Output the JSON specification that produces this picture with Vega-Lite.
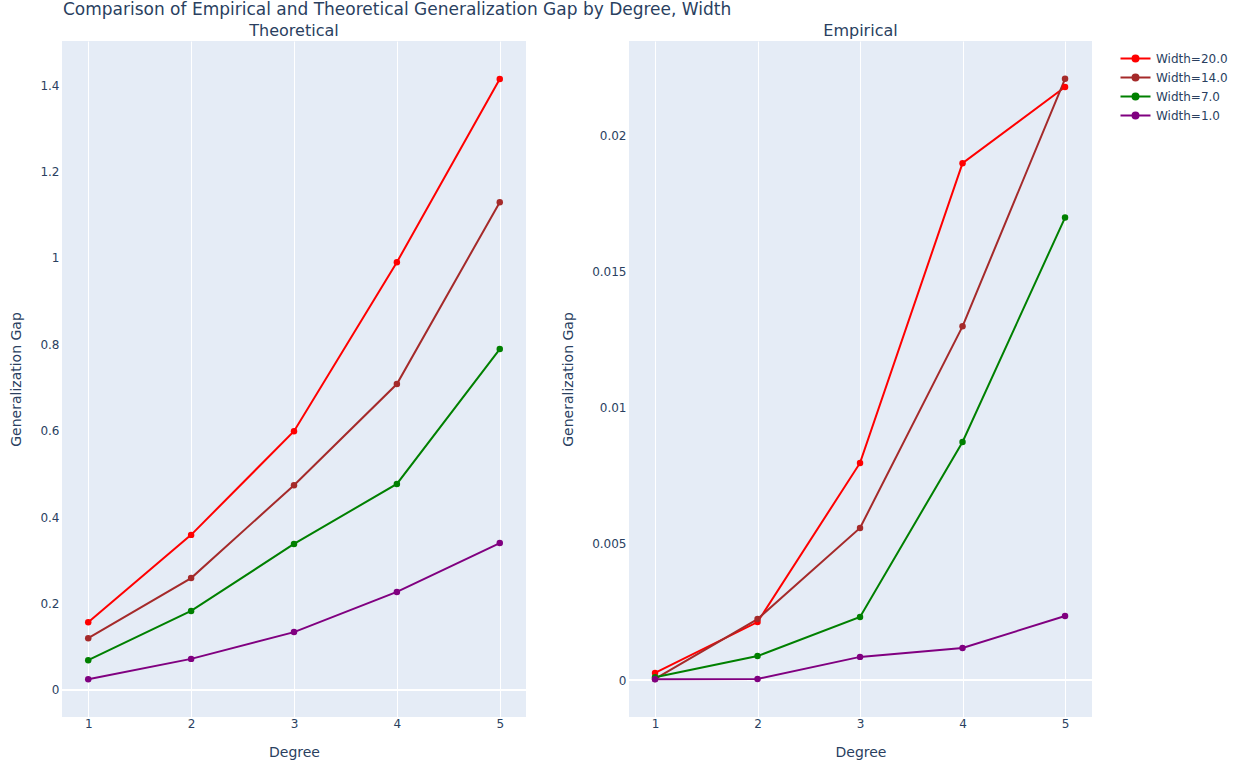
{
  "$schema": "https://vega.github.io/schema/vega-lite/v6.json",
  "background": "white",
  "padding": {"left": 9, "top": 1, "right": 5, "bottom": 5},
  "title": {"text": "Comparison of Empirical and Theoretical Generalization Gap by Degree, Width", "anchor": "start", "dx": 53, "fontSize": 17, "font": "DejaVu Sans", "fontWeight": "normal", "color": "#2a3f5f", "offset": 4},
  "datasets": {
    "theo": [
      {"Degree": 1, "Gap": 0.157, "Width": "Width=20.0"},
      {"Degree": 2, "Gap": 0.359, "Width": "Width=20.0"},
      {"Degree": 3, "Gap": 0.599, "Width": "Width=20.0"},
      {"Degree": 4, "Gap": 0.990, "Width": "Width=20.0"},
      {"Degree": 5, "Gap": 1.414, "Width": "Width=20.0"},
      {"Degree": 1, "Gap": 0.120, "Width": "Width=14.0"},
      {"Degree": 2, "Gap": 0.259, "Width": "Width=14.0"},
      {"Degree": 3, "Gap": 0.474, "Width": "Width=14.0"},
      {"Degree": 4, "Gap": 0.708, "Width": "Width=14.0"},
      {"Degree": 5, "Gap": 1.129, "Width": "Width=14.0"},
      {"Degree": 1, "Gap": 0.069, "Width": "Width=7.0"},
      {"Degree": 2, "Gap": 0.183, "Width": "Width=7.0"},
      {"Degree": 3, "Gap": 0.338, "Width": "Width=7.0"},
      {"Degree": 4, "Gap": 0.477, "Width": "Width=7.0"},
      {"Degree": 5, "Gap": 0.789, "Width": "Width=7.0"},
      {"Degree": 1, "Gap": 0.025, "Width": "Width=1.0"},
      {"Degree": 2, "Gap": 0.072, "Width": "Width=1.0"},
      {"Degree": 3, "Gap": 0.134, "Width": "Width=1.0"},
      {"Degree": 4, "Gap": 0.227, "Width": "Width=1.0"},
      {"Degree": 5, "Gap": 0.340, "Width": "Width=1.0"}
    ],
    "emp": [
      {"Degree": 1, "Gap": 0.00026, "Width": "Width=20.0"},
      {"Degree": 2, "Gap": 0.00213, "Width": "Width=20.0"},
      {"Degree": 3, "Gap": 0.00798, "Width": "Width=20.0"},
      {"Degree": 4, "Gap": 0.0190, "Width": "Width=20.0"},
      {"Degree": 5, "Gap": 0.0218, "Width": "Width=20.0"},
      {"Degree": 1, "Gap": 0.00004, "Width": "Width=14.0"},
      {"Degree": 2, "Gap": 0.00224, "Width": "Width=14.0"},
      {"Degree": 3, "Gap": 0.00559, "Width": "Width=14.0"},
      {"Degree": 4, "Gap": 0.0130, "Width": "Width=14.0"},
      {"Degree": 5, "Gap": 0.0221, "Width": "Width=14.0"},
      {"Degree": 1, "Gap": 0.0001, "Width": "Width=7.0"},
      {"Degree": 2, "Gap": 0.00088, "Width": "Width=7.0"},
      {"Degree": 3, "Gap": 0.00232, "Width": "Width=7.0"},
      {"Degree": 4, "Gap": 0.00875, "Width": "Width=7.0"},
      {"Degree": 5, "Gap": 0.0170, "Width": "Width=7.0"},
      {"Degree": 1, "Gap": 0.00003, "Width": "Width=1.0"},
      {"Degree": 2, "Gap": 0.00004, "Width": "Width=1.0"},
      {"Degree": 3, "Gap": 0.00085, "Width": "Width=1.0"},
      {"Degree": 4, "Gap": 0.00118, "Width": "Width=1.0"},
      {"Degree": 5, "Gap": 0.00235, "Width": "Width=1.0"}
    ]
  },
  "hconcat": [
    {
      "width": 464,
      "height": 676,
      "title": "Theoretical",
      "layer": [
        {
          "data": {"values": [{}]},
          "mark": {"type": "rule", "color": "white", "strokeWidth": 2},
          "encoding": {"y": {"datum": 0, "type": "quantitative"}}
        },
        {
          "data": {"name": "theo"},
          "mark": {"type": "line", "strokeWidth": 2},
          "encoding": {
            "x": {"field": "Degree", "type": "quantitative", "scale": {"domain": [0.745, 5.255], "nice": false, "zero": false}, "axis": {"values": [1, 2, 3, 4, 5], "format": "d", "title": "Degree"}},
            "y": {"field": "Gap", "type": "quantitative", "scale": {"domain": [-0.0625, 1.502], "nice": false, "zero": false}, "axis": {"values": [0, 0.2, 0.4, 0.6, 0.8, 1, 1.2, 1.4], "format": "~g", "title": "Generalization Gap"}},
            "color": {"field": "Width", "type": "nominal", "scale": {"domain": ["Width=20.0", "Width=14.0", "Width=7.0", "Width=1.0"], "range": ["#ff0000", "#a52a2a", "#008000", "#800080"]}, "legend": {"title": null}},
            "order": {"field": "Degree"}
          }
        },
        {
          "data": {"name": "theo"},
          "mark": {"type": "point", "filled": true, "size": 42, "opacity": 1},
          "encoding": {
            "x": {"field": "Degree", "type": "quantitative"},
            "y": {"field": "Gap", "type": "quantitative"},
            "color": {"field": "Width", "type": "nominal"}
          }
        }
      ]
    },
    {
      "width": 463,
      "height": 676,
      "title": "Empirical",
      "layer": [
        {
          "data": {"values": [{}]},
          "mark": {"type": "rule", "color": "white", "strokeWidth": 2},
          "encoding": {"y": {"datum": 0, "type": "quantitative"}}
        },
        {
          "data": {"name": "emp"},
          "mark": {"type": "line", "strokeWidth": 2},
          "encoding": {
            "x": {"field": "Degree", "type": "quantitative", "scale": {"domain": [0.746, 5.263], "nice": false, "zero": false}, "axis": {"values": [1, 2, 3, 4, 5], "format": "d", "title": "Degree"}},
            "y": {"field": "Gap", "type": "quantitative", "scale": {"domain": [-0.00136, 0.02349], "nice": false, "zero": false}, "axis": {"values": [0, 0.005, 0.01, 0.015, 0.02], "format": "~g", "title": "Generalization Gap"}},
            "color": {"field": "Width", "type": "nominal", "scale": {"domain": ["Width=20.0", "Width=14.0", "Width=7.0", "Width=1.0"], "range": ["#ff0000", "#a52a2a", "#008000", "#800080"]}, "legend": {"title": null}},
            "order": {"field": "Degree"}
          }
        },
        {
          "data": {"name": "emp"},
          "mark": {"type": "point", "filled": true, "size": 42, "opacity": 1},
          "encoding": {
            "x": {"field": "Degree", "type": "quantitative"},
            "y": {"field": "Gap", "type": "quantitative"},
            "color": {"field": "Width", "type": "nominal"}
          }
        }
      ]
    }
  ],
  "spacing": 34,
  "resolve": {"scale": {"color": "shared"}},
  "config": {
    "font": "DejaVu Sans",
    "view": {"fill": "#e5ecf6", "stroke": null},
    "title": {"fontSize": 16, "font": "DejaVu Sans", "fontWeight": "normal", "color": "#2a3f5f", "offset": 2},
    "axis": {
      "labelFont": "DejaVu Sans", "labelFontSize": 12, "labelColor": "#2a3f5f",
      "titleFont": "DejaVu Sans", "titleFontSize": 14, "titleColor": "#2a3f5f", "titleFontWeight": "normal",
      "gridColor": "white", "gridWidth": 1, "gridOpacity": 1, "domain": false, "ticks": false
    },
    "axisX": {"labelPadding": 1, "titlePadding": 16},
    "axisY": {"labelPadding": 3, "titlePadding": 16},
    "legend": {
      "offset": 25, "padding": 9, "labelFont": "DejaVu Sans", "labelFontSize": 12, "labelColor": "#2a3f5f",
      "symbolType": "M-2,0H2M0.4,0A0.4,0.4,0,1,1,-0.4,0A0.4,0.4,0,1,1,0.4,0Z",
      "symbolSize": 225, "symbolStrokeWidth": 2, "labelOffset": 12, "rowPadding": 3, "symbolOpacity": 1
    }
  }
}
